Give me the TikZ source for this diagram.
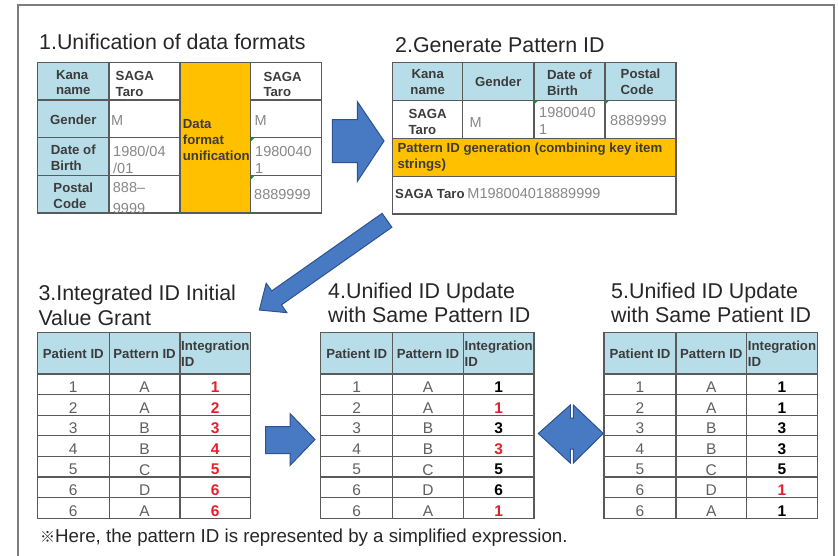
\documentclass[tikz,border=0pt]{standalone}
\usepackage{fontspec}
\setmainfont{Liberation Sans}
\newfontfamily\cjkfont{Noto Sans CJK JP}

\definecolor{headblue}{RGB}{183,221,232}
\definecolor{unifyorange}{RGB}{255,192,0}
\definecolor{gridgray}{RGB}{90,90,90}
\definecolor{titletext}{RGB}{38,38,38}
\definecolor{labeltext}{RGB}{60,60,60}
\definecolor{valgray}{RGB}{135,135,135}
\definecolor{numgray}{RGB}{95,95,95}
\definecolor{idred}{RGB}{228,32,44}
\definecolor{arrowblue}{RGB}{72,122,196}
\definecolor{arrowedge}{RGB}{47,82,143}
\definecolor{framegray}{RGB}{125,125,125}
\definecolor{flaggreen}{RGB}{30,140,60}

\begin{document}
\begin{tikzpicture}[x=1pt,y=-1pt,
    grid/.style={draw=gridgray,line width=1.3pt},
    ttl/.style={font=\fontsize{21.4}{24.6}\selectfont,text=titletext,inner sep=0pt,align=left},
    lbl/.style={font=\fontsize{13.2}{15.6}\selectfont\bfseries,text=labeltext,inner sep=0pt,align=left},
    val/.style={font=\fontsize{14.5}{17}\selectfont,text=valgray,inner sep=0pt,align=left},
    num/.style={font=\fontsize{15.5}{17}\selectfont,text=numgray,inner sep=0pt},
    intid/.style={font=\fontsize{15.5}{17}\selectfont\bfseries,inner sep=0pt},
    bluearrow/.style={fill=arrowblue,draw=arrowedge,line width=1pt,line join=miter},
    flag/.style={fill=flaggreen}]
\useasboundingbox (0,0) rectangle (838,555);

% outer frame
\draw[framegray,line width=1.2pt] (18,556) -- (18,5) -- (834,5) -- (834,556);

% 1. unification of data formats
\node[ttl,anchor=base west] (title1) at (39,49) {1.Unification of data formats};
\fill[headblue] (37.7,62.7) rectangle (109,213);
\fill[unifyorange] (180,62.7) rectangle (250.7,213);
\draw[grid] (37.7,62.7) rectangle (321.7,213);
\draw[grid] (109,62.7) -- (109,213) (180,62.7) -- (180,213) (250.7,62.7) -- (250.7,213);
\draw[grid] (37.7,100) -- (180,100) (37.7,137.7) -- (180,137.7) (37.7,175.7) -- (180,175.7);
\draw[grid] (250.7,100) -- (321.7,100) (250.7,137.7) -- (321.7,137.7) (250.7,175.7) -- (321.7,175.7);
\fill[flag] (250.7,137.7) -- ++(4,0) -- ++(-4,4) -- cycle;
\fill[flag] (250.7,175.7) -- ++(4,0) -- ++(-4,4) -- cycle;
\node[lbl] (kana1) at (73.3,82.5) {Kana\\name};
\node[lbl] (gender1) at (73.3,119.5) {Gender};
\node[lbl] (birth1) at (73.3,158) {Date of\\Birth};
\node[lbl] (postal1) at (73.3,195.5) {Postal\\Code};
\node[lbl,anchor=west] (nameA) at (115.5,84) {SAGA\\Taro};
\node[val,anchor=west] (genderA) at (111,121) {M};
\node[val,anchor=west] (birthA) at (113,160) {1980/04\\/01};
\node[val,anchor=west,font=\fontsize{14.5}{20.5}\selectfont] (postalA) at (112.7,198) {888–\\9999};
\node[lbl,anchor=west] (unify) at (182.7,140) {Data\\format\\unification};
\node[lbl,anchor=west] (nameB) at (263.3,84.5) {SAGA\\Taro};
\node[val,anchor=west] (genderB) at (254.3,121) {M};
\node[val,anchor=west] (birthB) at (255,160) {1980040\\1};
\node[val,anchor=west] (postalB) at (254,195) {8889999};

% 2. generate pattern ID
\node[ttl,anchor=base west] (title2) at (395,52.7) {2.Generate Pattern ID};
\fill[headblue] (392.7,62.3) rectangle (676,100.7);
\fill[unifyorange] (392.7,138.3) rectangle (676,176.7);
\draw[grid] (392.7,62.3) rectangle (676,214);
\draw[grid] (392.7,100.7) -- (676,100.7) (392.7,138.3) -- (676,138.3) (392.7,176.7) -- (676,176.7);
\draw[grid] (462.7,62.3) -- (462.7,138.3) (534,62.3) -- (534,138.3) (605,62.3) -- (605,138.3);
\fill[flag] (534,100.7) -- ++(4,0) -- ++(-4,4) -- cycle;
\fill[flag] (605,100.7) -- ++(4,0) -- ++(-4,4) -- cycle;
\node[lbl,align=center] (kana2) at (427.7,82) {Kana\\name};
\node[lbl] (gender2) at (498.3,82) {Gender};
\node[lbl] (birth2) at (569.5,82.5) {Date of\\Birth};
\node[lbl] (postal2) at (640.5,82) {Postal\\Code};
\node[lbl] (name2) at (427.7,122) {SAGA\\Taro};
\node[val,anchor=west] (gender2v) at (469.3,122.3) {M};
\node[val,anchor=west] (birth2v) at (539,121) {1980040\\1};
\node[val,anchor=west] (postal2v) at (610,121) {8889999};
\node[lbl,anchor=west] (patgen) at (397.3,157) {Pattern ID generation (combining key item\\strings)};
\node[lbl,anchor=west] (name2b) at (395,193.5) {SAGA Taro};
\node[val,anchor=west] (pattern) at (name2b.east) {\,M198004018889999};

% arrows between the steps
\draw[bluearrow] (332.3,119.5) -- (357.3,119.5) -- (357.3,101.5) -- (384,141)
    -- (357.3,181.5) -- (357.3,162.5) -- (332.3,162.5) -- cycle;
\begin{scope}[shift={(387,220.3)},rotate=215.1]
  \draw[bluearrow] (0,-8.5) -- (135,-8.5) -- (135,-18) -- (156,0) -- (135,18) -- (135,8.5) -- (0,8.5) -- cycle;
\end{scope}
\draw[bluearrow] (265.7,426.5) -- (290,426.5) -- (290,413.5) -- (315,439.5)
    -- (290,465.5) -- (290,453.5) -- (265.7,453.5) -- cycle;
\draw[bluearrow] (538.3,433.5) -- (570.3,405) -- (570.3,418) -- (573.3,418) -- (573.3,405)
    -- (603.3,433.5) -- (573.3,463) -- (573.3,449) -- (570.3,449) -- (570.3,463) -- cycle;

% 3. integrated ID initial value grant
\node[ttl,anchor=south west] (title3) at (38.3,326) {3.Integrated ID Initial\\Value Grant};
\begin{scope}[shift={(37.3,0)}]
  \fill[headblue] (0,332.7) rectangle (213.4,374);
  \draw[grid] (0,332.7) rectangle (213.4,518.3);
  \draw[grid] (72,332.7) -- (72,518.3) (142.7,332.7) -- (142.7,518.3);
  \foreach \k in {0,...,6}
    \draw[grid] (0,{374+\k*20.6}) -- (213.4,{374+\k*20.6});
  \node[lbl] (pat3) at (36,354) {Patient ID};
  \node[lbl] (ptn3) at (107.3,354) {Pattern ID};
  \node[lbl,anchor=west] (int3) at (143.7,354) {Integration\\ID};
  \foreach \pa/\pt/\ig/\ic [count=\k from 0] in
      {1/A/1/idred,2/A/2/idred,3/B/3/idred,4/B/4/idred,5/C/5/idred,6/D/6/idred,6/A/6/idred} {
    \node[num] (pa3\k) at (36,{387.3+\k*20.6}) {\pa};
    \node[num] (pt3\k) at (107.3,{387.3+\k*20.6}) {\pt};
    \node[intid,text=\ic] (ig3\k) at (178,{387.3+\k*20.6}) {\ig};
  }
\end{scope}

% 4. unified ID update with same pattern ID
\node[ttl,anchor=south west] (title4) at (328,323.3) {4.Unified ID Update\\with Same Pattern ID};
\begin{scope}[shift={(320.7,0)}]
  \fill[headblue] (0,332.7) rectangle (213.4,374);
  \draw[grid] (0,332.7) rectangle (213.4,518.3);
  \draw[grid] (72,332.7) -- (72,518.3) (142.7,332.7) -- (142.7,518.3);
  \foreach \k in {0,...,6}
    \draw[grid] (0,{374+\k*20.6}) -- (213.4,{374+\k*20.6});
  \node[lbl] (pat4) at (36,354) {Patient ID};
  \node[lbl] (ptn4) at (107.3,354) {Pattern ID};
  \node[lbl,anchor=west] (int4) at (143.7,354) {Integration\\ID};
  \foreach \pa/\pt/\ig/\ic [count=\k from 0] in
      {1/A/1/black,2/A/1/idred,3/B/3/black,4/B/3/idred,5/C/5/black,6/D/6/black,6/A/1/idred} {
    \node[num] (pa4\k) at (36,{387.3+\k*20.6}) {\pa};
    \node[num] (pt4\k) at (107.3,{387.3+\k*20.6}) {\pt};
    \node[intid,text=\ic] (ig4\k) at (178,{387.3+\k*20.6}) {\ig};
  }
\end{scope}

% 5. unified ID update with same patient ID
\node[ttl,anchor=south west] (title5) at (611,323.3) {5.Unified ID Update\\with Same Patient ID};
\begin{scope}[shift={(604,0)}]
  \fill[headblue] (0,332.7) rectangle (213.4,374);
  \draw[grid] (0,332.7) rectangle (213.4,518.3);
  \draw[grid] (72,332.7) -- (72,518.3) (142.7,332.7) -- (142.7,518.3);
  \foreach \k in {0,...,6}
    \draw[grid] (0,{374+\k*20.6}) -- (213.4,{374+\k*20.6});
  \node[lbl] (pat5) at (36,354) {Patient ID};
  \node[lbl] (ptn5) at (107.3,354) {Pattern ID};
  \node[lbl,anchor=west] (int5) at (143.7,354) {Integration\\ID};
  \foreach \pa/\pt/\ig/\ic [count=\k from 0] in
      {1/A/1/black,2/A/1/black,3/B/3/black,4/B/3/black,5/C/5/black,6/D/1/idred,6/A/1/black} {
    \node[num] (pa5\k) at (36,{387.3+\k*20.6}) {\pa};
    \node[num] (pt5\k) at (107.3,{387.3+\k*20.6}) {\pt};
    \node[intid,text=\ic] (ig5\k) at (178,{387.3+\k*20.6}) {\ig};
  }
\end{scope}

% footnote
\node[anchor=base west,inner sep=0pt,text=titletext,font=\fontsize{18.7}{22}\selectfont] (note) at (40,542.3)
  {{\cjkfont\fontsize{15}{22}\selectfont ※}Here, the pattern ID is represented by a simplified expression.};
\end{tikzpicture}
\end{document}
